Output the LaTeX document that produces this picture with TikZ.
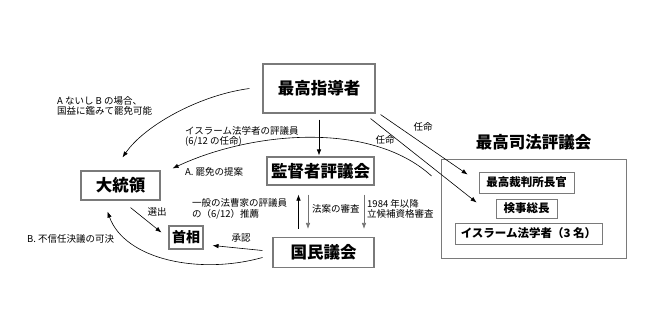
\documentclass[tikz,border=0pt]{standalone}
\usepackage{fontspec}
\setmainfont{Noto Sans CJK JP}
\usepackage{xcolor}
\usetikzlibrary{arrows.meta,positioning}
\definecolor{FrameGray}{HTML}{7A7A7A}

\begin{document}
\begin{tikzpicture}[
  x=1pt, y=-1pt,
  box/.style={draw=FrameGray,line width=1.1pt,fill=white,inner sep=0pt,align=center,font=\fontsize{16.5}{18}\selectfont\bfseries},
  member/.style={box,line width=0.8pt,font=\fontsize{11.5}{13}\selectfont\bfseries},
  lbl/.style={inner sep=0pt,align=left,font=\fontsize{9.5}{10.5}\selectfont},
  arrow/.style={-{Latex[length=6pt,width=4.5pt]},line width=0.6pt},
  greyarrow/.style={arrow,draw=black!55}
]
  \useasboundingbox (0,0) rectangle (666,318);

  \node[box, minimum width=112, minimum height=49] (leader) at (319,88.5) {最高指導者};
  \node[box, minimum width=107, minimum height=28] (guardian) at (320.5,171) {監督者評議会};
  \node[box, minimum width=101, minimum height=30] (majlis) at (323.5,252.5) {国民議会};
  \node[box, minimum width=79, minimum height=29] (president) at (120.5,185.5) {大統領};
  \node[box, minimum width=34, minimum height=23, font=\fontsize{14}{16}\selectfont\bfseries] (premier) at (186,237.5) {首相};

  \node[box, minimum width=185, minimum height=99, line width=0.9pt] (council) at (533.5,208.5) {};
  \node[box, draw=none, fill=none, above=8pt of council] (councilname) {最高司法評議会};
  \node[member, minimum width=95, minimum height=21] (chief) at (526.5,182.5) {最高裁判所長官};
  \node[member, minimum width=61, minimum height=19] (prosecutor) at (526.5,208.5) {検事総長};
  \node[member, minimum width=147, minimum height=21] (jurists) at (528.5,233.5) {イスラーム法学者（3 名）};

  \draw[arrow, shorten <=6pt, shorten >=1pt] (leader.south) -- (leader.south |- guardian.north);
  \draw[arrow] ([xshift=5pt,yshift=-1pt]leader.south east) -- ([xshift=-11pt,yshift=8pt]chief.west);
  \draw[arrow] ([xshift=-5pt,yshift=-5pt]leader.south east) -- ([xshift=-19pt,yshift=6pt]prosecutor.west);

  \draw[arrow] ([xshift=-13pt]leader.west) .. controls (200,95) and (145,125) .. ([xshift=2pt,yshift=13pt]president.north);
  \draw[arrow] ([xshift=-9pt,yshift=32.5pt]council.west) .. controls (370,120) and (250,132) .. ([xshift=12pt,yshift=2pt]president.north east);
  \draw[arrow] ([xshift=-10pt,yshift=-5pt]majlis.west) .. controls (200,275) and (125,260) .. ([xshift=-13pt,yshift=-11pt]president.south);

  \draw[arrow] ([xshift=-10pt,yshift=2pt]majlis.west) -- ([xshift=9pt,yshift=-8pt]premier.east);
  \draw[arrow] ([xshift=10pt,yshift=-7pt]president.south) -- ([xshift=-7pt,yshift=5pt]premier.west);

  \draw[arrow, shorten <=8pt, shorten >=9pt] ([xshift=-25pt]majlis.north) -- ([xshift=-25pt]majlis.north |- guardian.south);
  \draw[greyarrow, shorten <=9pt, shorten >=8pt] ([xshift=-12.5pt]guardian.south) -- ([xshift=-12.5pt]guardian.south |- majlis.north);
  \draw[greyarrow, shorten <=9pt, shorten >=8pt] ([xshift=43.5pt]guardian.south) -- ([xshift=43.5pt]guardian.south |- majlis.north);

  \node[lbl] (appoint1) at (423,127) {任命};
  \node[lbl] (appoint2) at (385,140) {任命};
  \node[lbl] (elect) at (157,212) {選出};
  \node[lbl] (approve) at (241,238) {承認};
  \node[lbl, anchor=west] (dismiss) at (57,106) {A ないし B の場合、\\国益に鑑みて罷免可能};
  \node[lbl, anchor=west] (jurorsel) at (185,136.5) {イスラーム法学者の評議員\\(6/12 の任命)};
  \node[lbl, anchor=west] (propose) at (185,172) {A. 罷免の提案};
  \node[lbl, anchor=west] (lawyers) at (192,209) {一般の法曹家の評議員\\の（6/12）推薦};
  \node[lbl, anchor=west] (review) at (312,209) {法案の審査};
  \node[lbl, anchor=west] (vetting) at (367,209) {1984 年以降\\立候補資格審査};
  \node[lbl, anchor=west] (noconf) at (27,239) {B. 不信任決議の可決};
\end{tikzpicture}
\end{document}
